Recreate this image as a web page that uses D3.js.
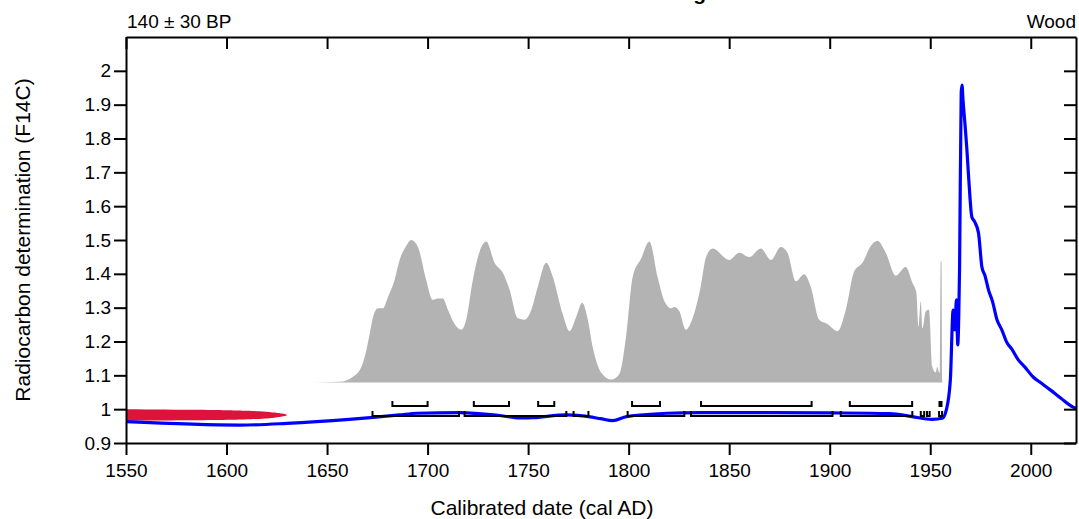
<!DOCTYPE html>
<html>
<head>
<meta charset="utf-8">
<script src="https://cdn.jsdelivr.net/npm/d3@7"></script>
<style>
  body { margin: 0; background: #fff; }
  text { font-family: "Liberation Sans", Arial, sans-serif; fill: #000; }
</style>
</head>
<body>
<svg id="chart"></svg>
<script>
// tick labels
var xTicks = [1550, 1600, 1650, 1700, 1750, 1800, 1850, 1900, 1950, 2000];
var yTicks = [0.9, 1, 1.1, 1.2, 1.3, 1.4, 1.5, 1.6, 1.7, 1.8, 1.9, 2];

// calibration curve (cal AD, F14C)
var curveYears = [1550, 1606.6, 1630, 1661, 1673, 1686, 1694.6, 1716, 1735, 1746, 1752, 1769, 1777, 1786, 1792, 1799, 1819, 1835, 1870, 1900, 1930, 1941, 1951, 1956, 1958, 1960,
  1961.4, 1962.3, 1963.0, 1963.7, 1964.2, 1964.6, 1965.4, 1965.8, 1966.3, 1967.4, 1968.2, 1969.1, 1970.7, 1972.0, 1974, 1975.7, 1977.2, 1979, 1981.0, 1983.2, 1985.5, 1988.2, 1990.5, 1993.9, 1997.0, 2001.2, 2005.0, 2009.7, 2015.0, 2021.1, 2022.5];
var curveF14C = [0.963, 0.953, 0.958, 0.970, 0.976, 0.983, 0.988, 0.990, 0.982, 0.974, 0.975, 0.983, 0.980, 0.972, 0.966, 0.978, 0.988, 0.990, 0.990, 0.989, 0.987, 0.978, 0.970, 0.973, 0.998, 1.086,
  1.293, 1.234, 1.323, 1.190, 1.278, 1.420, 1.935, 1.958, 1.914, 1.834, 1.770, 1.686, 1.568, 1.555, 1.521, 1.420, 1.395, 1.352, 1.318, 1.264, 1.236, 1.196, 1.178, 1.145, 1.125, 1.095, 1.078, 1.057, 1.032, 1.006, 1.003];

// measurement 140 +- 30 BP as F14C distribution (relative density)
var measF14C = [0.966, 0.968, 0.971, 0.975, 0.979, 0.983, 0.987, 0.991, 0.995, 0.998, 1.000];
var measDens = [0, 0.55, 0.8, 0.92, 0.98, 1.0, 0.97, 0.9, 0.75, 0.45, 0];

// calibrated probability (relative)
var probYears = [1642.9, 1656.3, 1662.9, 1667.1, 1669.6, 1671.2, 1672.9, 1675.3, 1677.8, 1680.3, 1683.6, 1686.1, 1689.4, 1691.9, 1695.2, 1699.3,
  1702.5, 1705.0, 1707.6, 1710.1, 1713.4, 1716.8, 1719.2, 1722.5, 1725.9, 1729.2, 1733.3, 1737.4, 1740.8, 1744.9, 1748.2, 1751.6, 1754.8,
  1759.0, 1762.3, 1767.2, 1770.6, 1773.9, 1776.9, 1779.7, 1782.1, 1786.3, 1791.3, 1795.4, 1798.7, 1802.0, 1806.2, 1810.3, 1814.4, 1817.8,
  1821.1, 1822.7, 1825.2, 1828.5, 1831.8, 1835.8, 1838.5, 1841.8, 1850.0, 1855.0, 1860.0, 1865.8, 1870.8, 1875.7, 1879.0, 1883.2, 1887.3,
  1890.6, 1894.8, 1898.9, 1903.9, 1908.0, 1912.2, 1916.3, 1920.5, 1923.7, 1927.9, 1932.9, 1937.8, 1941.1, 1943.1, 1944.1, 1945.3, 1946.1,
  1947.8, 1949.4, 1951.0, 1952.7, 1953.5, 1954.4, 1954.9, 1955.2, 1955.6, 1956.0];
var probValues = [0, 0.004, 0.04, 0.11, 0.23, 0.34, 0.46, 0.52, 0.52, 0.60, 0.72, 0.86, 0.96, 1.0, 0.95, 0.72,
  0.58, 0.59, 0.59, 0.51, 0.41, 0.37, 0.44, 0.72, 0.92, 0.99, 0.84, 0.77, 0.65, 0.45, 0.44, 0.51, 0.67,
  0.84, 0.74, 0.48, 0.36, 0.46, 0.56, 0.44, 0.25, 0.07, 0.02, 0.06, 0.32, 0.74, 0.87, 0.99, 0.74, 0.57,
  0.52, 0.53, 0.50, 0.37, 0.45, 0.67, 0.88, 0.94, 0.86, 0.91, 0.88, 0.94, 0.86, 0.95, 0.91, 0.71, 0.76,
  0.67, 0.44, 0.41, 0.36, 0.51, 0.78, 0.84, 0.96, 0.995, 0.91, 0.75, 0.81, 0.70, 0.63, 0.39, 0.57, 0.38,
  0.50, 0.51, 0.11, 0.07, 0.11, 0.07, 0.07, 0.85, 0.85, 0];

// ranges
var range68 = [[1682.5, 1700], [1723, 1740.5], [1755, 1763], [1801.7, 1815.6], [1836, 1891], [1910, 1941], [1954.6, 1955.6]];
var range95 = [[1672.6, 1715.6], [1718.4, 1769], [1772.6, 1780], [1799.5, 1827.7], [1831, 1901.4], [1905.5, 1941.1],
  [1945.3, 1947], [1948.4, 1949.7], [1954.4, 1955.9]];

var svgWidth = 1079, svgHeight = 519;
var margin = { top: 37, right: 3, bottom: 76, left: 126 };
var width = svgWidth - margin.left - margin.right;
var height = svgHeight - margin.top - margin.bottom;

var svg = d3.select("#chart")
    .attr("width", svgWidth)
    .attr("height", svgHeight);

var g = svg.append("g")
    .attr("transform", "translate(" + margin.left + "," + margin.top + ")");

var x = d3.scaleLinear().domain([1550, 2022.5]).range([0, width]);
var y = d3.scaleLinear().domain([0.9, 2.1]).range([height, 0]);
// probability drawn between these F14C levels
var py = d3.scaleLinear().domain([0, 1]).range([y(1.079), y(1.5)]);
// measurement density stretched along the date axis
var mx = d3.scaleLinear().domain([0, 1]).range([x(1550), x(1630)]);

// grey probability
var probData = probYears.map(function(d, i) { return { year: d, p: probValues[i] }; });
g.append("path")
    .datum(probData)
    .attr("fill", "#b3b3b3")
    .attr("d", d3.area()
        .x(function(d) { return x(d.year); })
        .y0(py(0))
        .y1(function(d) { return py(d.p); })
        .curve(d3.curveMonotoneX));

// red measurement
var measData = measF14C.map(function(d, i) { return { f: d, dens: measDens[i] }; });
g.append("path")
    .datum(measData)
    .attr("fill", "#dc143c")
    .attr("d", d3.area()
        .y(function(d) { return y(d.f); })
        .x0(mx(0))
        .x1(function(d) { return mx(d.dens); })
        .curve(d3.curveMonotoneY));

// blue calibration curve
var curveData = curveYears.map(function(d, i) { return { year: d, f: curveF14C[i] }; });
g.append("path")
    .datum(curveData)
    .attr("fill", "none")
    .attr("stroke", "#0000ff")
    .attr("stroke-width", 3.2)
    .attr("stroke-linejoin", "round")
    .attr("d", d3.line()
        .x(function(d) { return x(d.year); })
        .y(function(d) { return y(d.f); })
        .curve(d3.curveMonotoneX));

// range brackets
function brackets(ranges, level) {
    var yy = y(level);
    g.append("g").selectAll("path")
        .data(ranges)
        .enter().append("path")
        .attr("fill", "none")
        .attr("stroke", "#000")
        .attr("stroke-width", 2)
        .attr("d", function(d) {
            return "M" + x(d[0]) + "," + (yy - 5) + "V" + yy + "H" + x(d[1]) + "V" + (yy - 5);
        });
}
brackets(range68, 1.009);
brackets(range95, 0.980);

// axes
function styleAxis(sel) {
    sel.selectAll("path, line").attr("stroke", "#000").attr("stroke-width", 2);
    sel.selectAll("text").attr("font-size", "19px").attr("fill", "#000")
        .attr("font-family", "Liberation Sans, Arial, sans-serif");
}

g.append("g")
    .attr("transform", "translate(0," + height + ")")
    .call(d3.axisBottom(x).tickValues(xTicks).tickFormat(d3.format("d")).tickSize(12).tickSizeOuter(0).tickPadding(9))
    .call(styleAxis);

g.append("g")
    .call(d3.axisLeft(y).tickValues(yTicks).tickFormat(d3.format(".1~f")).tickSize(12).tickSizeOuter(0).tickPadding(3))
    .call(styleAxis);

g.append("g")
    .call(d3.axisTop(x).tickValues(xTicks).tickFormat("").tickSize(-12).tickSizeOuter(0))
    .call(styleAxis);

g.append("g")
    .attr("transform", "translate(" + width + ",0)")
    .call(d3.axisRight(y).tickValues(yTicks).tickFormat("").tickSize(-12).tickSizeOuter(0))
    .call(styleAxis);

// texts (title sits mostly above the page edge, as in the original)
svg.append("text")
    .attr("x", 706)
    .attr("y", 0)
    .attr("text-anchor", "end")
    .attr("font-weight", "bold")
    .attr("font-size", "21px")
    .text("Radiocarbon dating");

svg.append("text")
    .attr("x", margin.left + 1)
    .attr("y", 28)
    .attr("font-size", "19px")
    .text("140 \u00b1 30 BP");

svg.append("text")
    .attr("x", margin.left + width)
    .attr("y", 28)
    .attr("text-anchor", "end")
    .attr("font-size", "19px")
    .text("Wood");

svg.append("text")
    .attr("x", 542)
    .attr("y", 515)
    .attr("text-anchor", "middle")
    .attr("font-size", "21px")
    .text("Calibrated date (cal AD)");

svg.append("text")
    .attr("transform", "translate(30," + (margin.top + height / 2) + ") rotate(-90)")
    .attr("text-anchor", "middle")
    .attr("font-size", "21px")
    .text("Radiocarbon determination (F14C)");
</script>
</body>
</html>
